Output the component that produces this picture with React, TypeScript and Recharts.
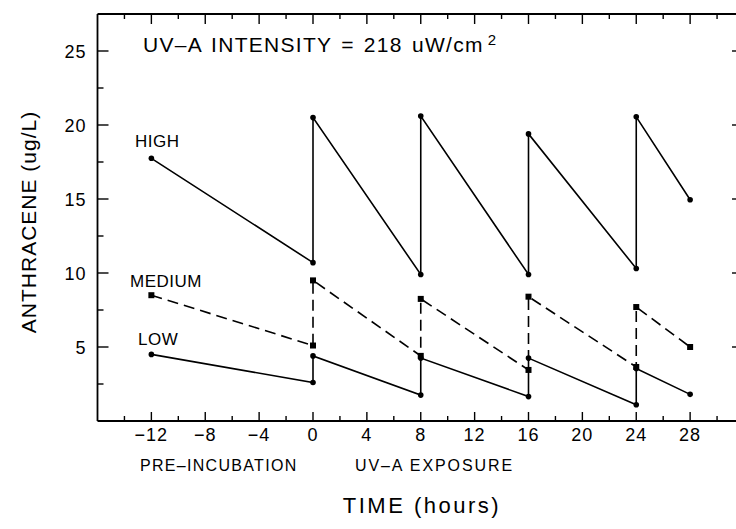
import React from 'react';
import { LineChart, Line, XAxis, YAxis, Customized } from 'recharts';

// sampling times (hours); each dose was re-spiked at 0, 8, 16 and 24 h
const sampleHours = [-12, 0, 0, 8, 8, 16, 16, 24, 24, 28];
const highValues = [17.75, 10.7, 20.5, 9.9, 20.6, 9.9, 19.4, 10.3, 20.55, 14.95];
const mediumValues = [8.5, 5.1, 9.5, 4.4, 8.25, 3.45, 8.4, 3.65, 7.7, 5.0];
const lowValues = [4.5, 2.6, 4.4, 1.75, 4.25, 1.65, 4.25, 1.1, 3.55, 1.8];

const xDomain: [number, number] = [-16, 32];
const yDomain: [number, number] = [0, 27.5];
const xTicks = [-14, -12, -10, -8, -6, -4, -2, 0, 2, 4, 6, 8, 10, 12, 14, 16, 18, 20, 22, 24, 26, 28, 30];
const xLabelTicks = [-12, -8, -4, 0, 4, 8, 12, 16, 20, 24, 28];
const yTicks = [2.5, 5, 7.5, 10, 12.5, 15, 17.5, 20, 22.5, 25];
const yLabelTicks = [5, 10, 15, 20, 25];

const toPoints = (values: number[]) => values.map((v, i) => ({ t: sampleHours[i], v }));
const highData = toPoints(highValues);
const mediumData = toPoints(mediumValues);
const lowData = toPoints(lowValues);

const FONT = '"Liberation Sans", Arial, Helvetica, sans-serif';
const INK = '#000';

// chart box
const CHART_W = 752;
const CHART_H = 529;
const M_TOP = 14;
const M_RIGHT = 8;
const Y_AXIS_W = 97.5;
const X_AXIS_H = 108;
const PLOT_LEFT = Y_AXIS_W;
const PLOT_RIGHT = CHART_W - M_RIGHT;
const PLOT_TOP = M_TOP;
const PLOT_BOTTOM = CHART_H - X_AXIS_H;

const fmt = (v: number) => (v < 0 ? '\u2212' + Math.abs(v) : String(v));

const BottomTick = (props: any) => {
  const { x, y, payload } = props;
  const major = xLabelTicks.includes(payload.value);
  return (
    <g>
      <line x1={x} y1={y} x2={x} y2={y - (major ? 9 : 5)} stroke={INK} strokeWidth={1.4} />
      {major && (
        <text x={x} y={y + 20} textAnchor="middle" fontFamily={FONT} fontSize={18} letterSpacing={1} fill={INK}>
          {fmt(payload.value)}
        </text>
      )}
    </g>
  );
};

const LeftTick = (props: any) => {
  const { x, y, payload } = props;
  const major = yLabelTicks.includes(payload.value);
  return (
    <g>
      <line x1={x} y1={y} x2={x + (major ? 11 : 6)} y2={y} stroke={INK} strokeWidth={1.4} />
      {major && (
        <text x={x - 11} y={y + 6.5} textAnchor="end" fontFamily={FONT} fontSize={18} letterSpacing={1} fill={INK}>
          {payload.value}
        </text>
      )}
    </g>
  );
};

const roundDot = (props: any) => (
  <circle key={`c-${props.index}`} cx={props.cx} cy={props.cy} r={2.8} fill={INK} />
);

const squareDot = (props: any) => (
  <rect key={`s-${props.index}`} x={props.cx - 3} y={props.cy - 3} width={6} height={6} fill={INK} />
);

// same linear mapping the axes use (domain -> plot box), for the frame decoration only
const sx = (t: number) =>
  PLOT_LEFT + ((t - xDomain[0]) / (xDomain[1] - xDomain[0])) * (PLOT_RIGHT - PLOT_LEFT);
const sy = (v: number) =>
  PLOT_BOTTOM - ((v - yDomain[0]) / (yDomain[1] - yDomain[0])) * (PLOT_BOTTOM - PLOT_TOP);

// top and right sides of the box with inward ticks, drawn as a separate svg layer
const Frame = () => (
  <svg
    width={CHART_W}
    height={CHART_H}
    style={{ position: 'absolute', left: 0, top: 0, pointerEvents: 'none' }}
  >
    <path
      d={`M${PLOT_LEFT},${PLOT_TOP} H${PLOT_RIGHT} V${PLOT_BOTTOM}`}
      fill="none"
      stroke={INK}
      strokeWidth={1.8}
    />
    {xTicks.map((t) => (
      <line
        key={`tt-${t}`}
        x1={sx(t)}
        y1={PLOT_TOP}
        x2={sx(t)}
        y2={PLOT_TOP + (xLabelTicks.includes(t) ? 10 : 5)}
        stroke={INK}
        strokeWidth={1.4}
      />
    ))}
    {yLabelTicks.map((v) => (
      <line
        key={`rt-${v}`}
        x1={PLOT_RIGHT}
        y1={sy(v)}
        x2={PLOT_RIGHT - 12}
        y2={sy(v)}
        stroke={INK}
        strokeWidth={1.4}
      />
    ))}
  </svg>
);

const Annotations = () => (
  <g fontFamily={FONT} fill={INK}>
    <text x={143} y={52} fontSize={21} letterSpacing={1.3} wordSpacing={2}>
      UV–A INTENSITY = 218 uW/cm
      <tspan dx={4} dy={-7} fontSize={15}>2</tspan>
    </text>
    <text x={135} y={147} fontSize={17} letterSpacing={0.5}>HIGH</text>
    <text x={130} y={287} fontSize={17} letterSpacing={0.5}>MEDIUM</text>
    <text x={138} y={345} fontSize={17} letterSpacing={0.5}>LOW</text>
    <text x={140} y={471} fontSize={16} letterSpacing={1.3}>PRE–INCUBATION</text>
    <text x={355} y={471} fontSize={16} letterSpacing={1.9}>UV–A EXPOSURE</text>
    <text x={422} y={513} fontSize={22} letterSpacing={2.5} textAnchor="middle">TIME (hours)</text>
    <text
      x={28}
      y={222}
      fontSize={21}
      letterSpacing={1}
      textAnchor="middle"
      dominantBaseline="central"
      transform="rotate(-90 28 222)"
    >
      ANTHRACENE (ug/L)
    </text>
  </g>
);

const axisLine = { stroke: INK, strokeWidth: 1.8 };

export default function App() {
  return (
    <div
      style={{
        position: 'absolute',
        left: 0,
        top: 0,
        width: 736,
        height: 529,
        overflow: 'hidden',
        background: '#fff',
      }}
    >
      <LineChart width={CHART_W} height={CHART_H} margin={{ top: M_TOP, right: M_RIGHT, bottom: 0, left: 0 }}>
        <XAxis
          type="number"
          dataKey="t"
          domain={xDomain}
          allowDataOverflow
          ticks={xTicks}
          interval={0}
          height={X_AXIS_H}
          tickSize={0}
          tickMargin={0}
          tickLine={false}
          axisLine={axisLine}
          tick={BottomTick}
        />
        <YAxis
          type="number"
          domain={yDomain}
          allowDataOverflow
          ticks={yTicks}
          interval={0}
          width={Y_AXIS_W}
          tickSize={0}
          tickMargin={0}
          tickLine={false}
          axisLine={axisLine}
          tick={LeftTick}
        />
        <Line
          data={highData}
          dataKey="v"
          type="linear"
          stroke={INK}
          strokeWidth={1.6}
          dot={roundDot}
          activeDot={false}
          isAnimationActive={false}
        />
        <Line
          data={mediumData}
          dataKey="v"
          type="linear"
          stroke={INK}
          strokeWidth={1.6}
          strokeDasharray="11 6"
          dot={squareDot}
          activeDot={false}
          isAnimationActive={false}
        />
        <Line
          data={lowData}
          dataKey="v"
          type="linear"
          stroke={INK}
          strokeWidth={1.6}
          dot={roundDot}
          activeDot={false}
          isAnimationActive={false}
        />
        <Customized component={Annotations} />
      </LineChart>
      <Frame />
    </div>
  );
}
